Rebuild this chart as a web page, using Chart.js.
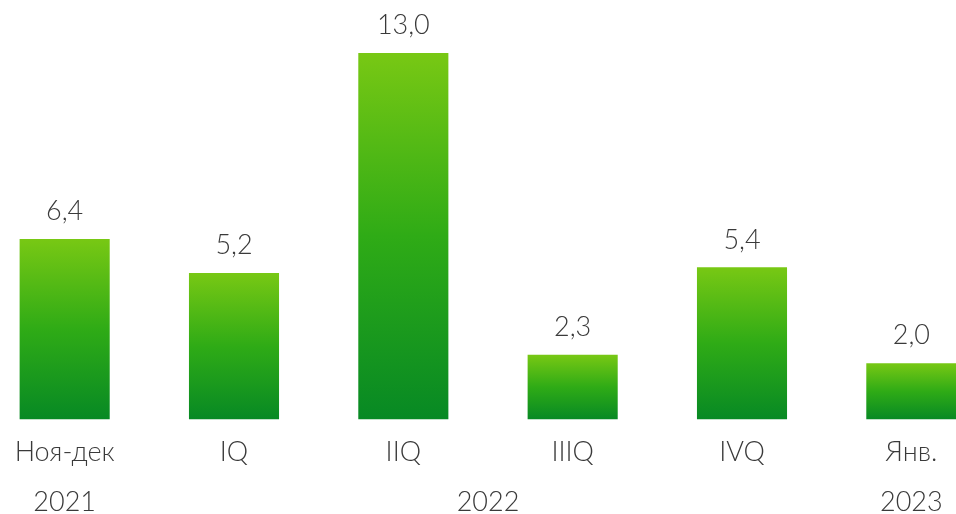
<!DOCTYPE html>
<html>
<head>
<meta charset="utf-8">
<script src="https://cdn.jsdelivr.net/npm/chart.js@4.4.1/dist/chart.umd.min.js"></script>
<style>
  html, body { margin: 0; padding: 0; background: #fff; overflow: hidden; }
  #wrap { position: absolute; left: -20px; top: 0; width: 1016px; height: 514px; }
</style>
</head>
<body>
<div id="wrap"><canvas id="growthChart"></canvas></div>
<script>
// Категории и значения
const categories = ["Ноя-дек", "IQ", "IIQ", "IIIQ", "IVQ", "Янв."];
const values = [6.4, 5.2, 13.0, 2.3, 5.4, 2.0];
// Подписи годов: текст и индекс категории, под которой он стоит
const yearLabels = ["2021", "2022", "2023"];
const yearAt = [0, 2.5, 5];

const FONT = "Lato, 'Open Sans', sans-serif";
const TEXT_COLOR = "#3a3a3a";

function barGradient(context) {
  const chart = context.chart;
  if (!chart.chartArea || context.parsed === undefined) return "#2eaa16";
  const y = chart.scales.y;
  const top = y.getPixelForValue(context.parsed.y);
  const bottom = y.getPixelForValue(0);
  const g = chart.ctx.createLinearGradient(0, top, 0, bottom);
  g.addColorStop(0, "#78c814");
  g.addColorStop(0.5, "#2fab16");
  g.addColorStop(1, "#078924");
  return g;
}

// Подписи значений над столбцами и годы под осью
const labelsPlugin = {
  id: "labels",
  afterDatasetsDraw(chart) {
    const ctx = chart.ctx;
    const meta = chart.getDatasetMeta(0);
    ctx.save();
    ctx.fillStyle = TEXT_COLOR;
    ctx.font = "300 27px " + FONT;
    ctx.textAlign = "center";
    ctx.textBaseline = "bottom";
    meta.data.forEach((bar, i) => {
      ctx.fillText(values[i].toFixed(1).replace(".", ","), bar.x, bar.y - 14);
    });
    const xs = chart.scales.x;
    ctx.textBaseline = "alphabetic";
    yearLabels.forEach((t, i) => {
      ctx.fillText(t, xs.getPixelForValue(yearAt[i]), 511);
    });
    ctx.restore();
  }
};

new Chart(document.getElementById("growthChart"), {
  type: "bar",
  data: {
    labels: categories,
    datasets: [{
      data: values,
      backgroundColor: barGradient,
      borderWidth: 0,
      categoryPercentage: 1,
      barPercentage: 0.532
    }]
  },
  options: {
    responsive: true,
    maintainAspectRatio: false,
    animation: false,
    layout: { padding: { top: 53, left: 0, right: 0, bottom: 30 } },
    plugins: { legend: { display: false }, tooltip: { enabled: false } },
    scales: {
      x: {
        offset: true,
        grid: { display: false, drawTicks: false },
        border: { display: false },
        ticks: {
          color: TEXT_COLOR,
          padding: 16,
          font: { family: FONT, size: 27, weight: 300, lineHeight: 1.2 }
        }
      },
      y: {
        display: false,
        min: 0,
        max: 13
      }
    }
  },
  plugins: [labelsPlugin]
});
</script>
</body>
</html>
